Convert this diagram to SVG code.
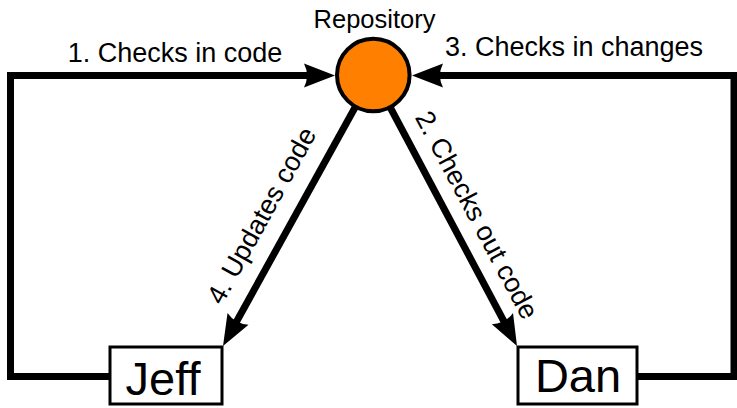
<svg xmlns="http://www.w3.org/2000/svg" width="737" height="408" viewBox="0 0 737 408">
  <style>
    text { font-family: "Liberation Sans", Arial, sans-serif; fill: #000; }
    .lbl { font-size: 27px; text-anchor: middle; }
    .name { font-size: 47px; text-anchor: middle; }
    .flow { fill: none; stroke: #000; stroke-width: 7; stroke-linejoin: miter; stroke-linecap: butt; marker-end: url(#arrow); }
    .box { fill: #fff; stroke: #000; stroke-width: 3; }
  </style>
  <defs>
    <!-- arrowhead: tip sits 20px beyond the end of the line -->
    <marker id="arrow" markerUnits="userSpaceOnUse" viewBox="-15 -15 40 30" markerWidth="40" markerHeight="30" refX="0" refY="0" orient="auto" overflow="visible">
      <path d="M20,0 L-11,-12 Q-5,0 -11,12 Z" fill="#000"/>
    </marker>
  </defs>
  <rect width="737" height="408" fill="#fff"/>

  <g id="connectors">
    <!-- 1. Jeff checks in code -->
    <path class="flow" d="M110,376.5 H10.5 V75.5 H315"/>
    <!-- 3. Dan checks in changes -->
    <path class="flow" d="M637,376.5 H734 V75.5 H432"/>
    <!-- 4. repository updates Jeff -->
    <path class="flow" d="M373,75 L232.7,328.5"/>
    <!-- 2. Dan checks out -->
    <path class="flow" d="M373,75 L507.6,328.3"/>

    <text class="lbl" x="175" y="62">1. Checks in code</text>
    <text class="lbl" x="574" y="56">3. Checks in changes</text>
    <text class="lbl" transform="translate(269.5,220) rotate(-61.04)">4. Updates code</text>
    <text class="lbl" transform="translate(468.8,219.3) rotate(62)">2. Checks out code</text>
  </g>

  <g id="repository">
    <circle cx="373.3" cy="75" r="36.3" fill="#ff8000" stroke="#000" stroke-width="4"/>
    <text x="374.5" y="28" style="font-size:25.5px;text-anchor:middle">Repository</text>
  </g>

  <g id="jeff">
    <rect class="box" x="110" y="347" width="112" height="57"/>
    <text class="name" x="163" y="395">Jeff</text>
  </g>

  <g id="dan">
    <rect class="box" x="518" y="347" width="119" height="57"/>
    <text class="name" x="578" y="392">Dan</text>
  </g>
</svg>
